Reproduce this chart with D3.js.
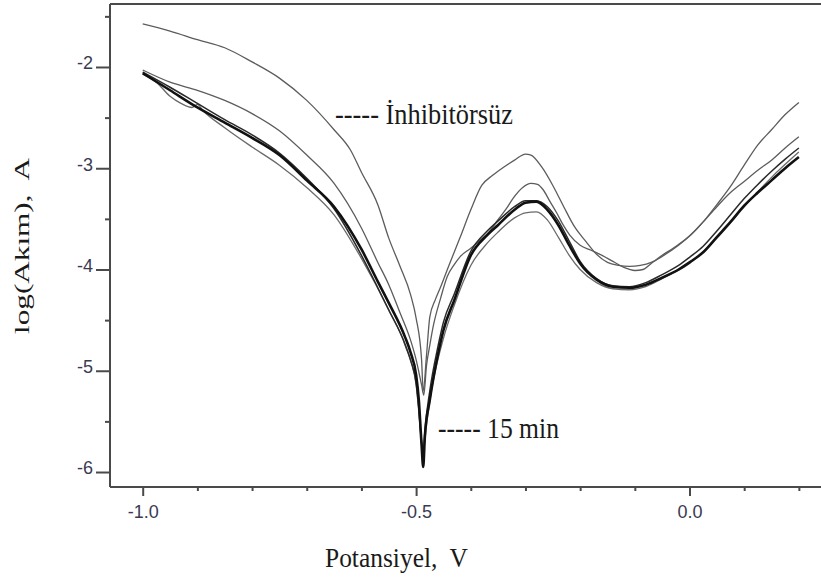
<!DOCTYPE html>
<html><head><meta charset="utf-8">
<script src="https://cdn.jsdelivr.net/npm/d3@7"></script>
<style>body{margin:0;background:#fff;overflow:hidden}</style>
</head><body><svg id="c" width="821" height="579"></svg>
<script>
// ---- data: potential (V) and log(current) for each curve ----
const potC1 = [-1.0,-0.95,-0.9,-0.85,-0.8,-0.75,-0.7,-0.65,-0.62,-0.6,-0.57,-0.55,-0.53,-0.51,-0.5,-0.49,-0.487,-0.481,-0.475,-0.465,-0.455,-0.44,-0.42,-0.4,-0.38,-0.36,-0.34,-0.32,-0.3,-0.29,-0.27,-0.25,-0.23,-0.21,-0.19,-0.17,-0.15,-0.13,-0.11,-0.09,-0.07,-0.05,-0.02,0.0,0.025,0.05,0.075,0.1,0.125,0.15,0.175,0.2];
const logC1 = [-1.575,-1.645,-1.73,-1.81,-1.95,-2.11,-2.33,-2.62,-2.82,-3.04,-3.36,-3.69,-3.96,-4.25,-4.48,-4.89,-5.2,-4.85,-4.47,-4.30,-4.17,-3.96,-3.69,-3.41,-3.17,-3.07,-2.99,-2.92,-2.86,-2.87,-2.99,-3.17,-3.38,-3.58,-3.72,-3.85,-3.93,-3.96,-3.97,-3.96,-3.93,-3.87,-3.76,-3.67,-3.53,-3.36,-3.18,-2.97,-2.77,-2.62,-2.47,-2.35];

const potC2 = [-1.0,-0.95,-0.9,-0.85,-0.8,-0.75,-0.7,-0.65,-0.6,-0.57,-0.55,-0.53,-0.51,-0.5,-0.49,-0.486,-0.481,-0.475,-0.469,-0.455,-0.443,-0.43,-0.419,-0.4,-0.383,-0.365,-0.352,-0.335,-0.323,-0.305,-0.29,-0.278,-0.268,-0.255,-0.243,-0.23,-0.219,-0.2,-0.18,-0.16,-0.14,-0.12,-0.1,-0.085,-0.07,-0.05,-0.03,0.0,0.025,0.05,0.075,0.1,0.125,0.15,0.175,0.2];
const logC2 = [-2.03,-2.15,-2.23,-2.33,-2.46,-2.63,-2.87,-3.15,-3.59,-3.93,-4.15,-4.42,-4.70,-4.89,-5.14,-5.24,-4.95,-4.75,-4.57,-4.28,-4.07,-3.95,-3.87,-3.79,-3.71,-3.62,-3.52,-3.40,-3.30,-3.19,-3.15,-3.16,-3.21,-3.33,-3.44,-3.57,-3.66,-3.76,-3.81,-3.86,-3.92,-3.98,-4.01,-4.0,-3.94,-3.86,-3.79,-3.67,-3.53,-3.38,-3.24,-3.13,-3.02,-2.92,-2.80,-2.69];

const potB = [-1.0,-0.95,-0.9,-0.85,-0.8,-0.75,-0.7,-0.65,-0.6,-0.57,-0.55,-0.52,-0.51,-0.5,-0.495,-0.49,-0.487,-0.484,-0.475,-0.46,-0.45,-0.43,-0.4,-0.37,-0.35,-0.32,-0.3,-0.28,-0.26,-0.24,-0.22,-0.2,-0.17,-0.14,-0.11,-0.08,-0.05,-0.02,0.0,0.025,0.05,0.075,0.1,0.125,0.15,0.175,0.2];
const logB1 = [-2.06,-2.23,-2.40,-2.55,-2.70,-2.87,-3.12,-3.38,-3.80,-4.12,-4.33,-4.67,-4.82,-5.04,-5.29,-5.73,-5.95,-5.65,-5.29,-4.84,-4.60,-4.30,-3.86,-3.66,-3.56,-3.41,-3.34,-3.33,-3.41,-3.56,-3.76,-3.94,-4.10,-4.17,-4.18,-4.15,-4.08,-4.00,-3.93,-3.83,-3.68,-3.53,-3.37,-3.24,-3.12,-3.00,-2.89];
const logB2 = [-2.05,-2.20,-2.36,-2.52,-2.67,-2.85,-3.10,-3.40,-3.86,-4.18,-4.40,-4.74,-4.90,-5.12,-5.38,-5.72,-5.85,-5.60,-5.20,-4.76,-4.52,-4.24,-3.82,-3.62,-3.52,-3.38,-3.32,-3.32,-3.38,-3.52,-3.72,-3.92,-4.09,-4.16,-4.17,-4.13,-4.05,-3.96,-3.88,-3.77,-3.62,-3.46,-3.30,-3.16,-3.03,-2.91,-2.80];

const potC4 = [-1.0,-0.975,-0.95,-0.93,-0.91,-0.9,-0.89,-0.85,-0.8,-0.75,-0.7,-0.65,-0.6,-0.55,-0.52,-0.5,-0.49,-0.487,-0.48,-0.47,-0.45,-0.43,-0.4,-0.37,-0.35,-0.32,-0.3,-0.28,-0.26,-0.24,-0.22,-0.2,-0.17,-0.14,-0.11,-0.08,-0.05,0.0,0.05,0.1,0.15,0.2];
const logC4 = [-2.07,-2.15,-2.29,-2.36,-2.40,-2.37,-2.43,-2.60,-2.79,-2.97,-3.19,-3.46,-3.89,-4.40,-4.75,-5.14,-5.68,-5.78,-5.49,-5.14,-4.68,-4.35,-3.96,-3.74,-3.63,-3.49,-3.44,-3.43,-3.51,-3.68,-3.86,-4.00,-4.13,-4.19,-4.20,-4.17,-4.09,-3.94,-3.69,-3.38,-3.09,-2.84];

const xMajorTicks = [-1.0, -0.5, 0.0];
const xTickLabels = ["-1.0", "-0.5", "0.0"];
const xMinorTicks = [-0.9,-0.8,-0.7,-0.6,-0.4,-0.3,-0.2,-0.1,0.1,0.2];
const yMajorTicks = [-2, -3, -4, -5, -6];
const yTickLabels = ["-2", "-3", "-4", "-5", "-6"];
const yMinorTicks = [-1.5,-2.5,-3.5,-4.5,-5.5];

const xTitle = "Potansiyel,  V";
const yTitle = "log(Akım),  A";
const noteTop = "----- İnhibitörsüz";
const noteBottom = "----- 15 min";

// ---- drawing ----
const svg = d3.select("#c");
const L = 110, T = 4, B = 487, R = 823.2;
const x = d3.scaleLinear().domain([-1.0598, 0.2445]).range([L, R]);
const y = d3.scaleLinear().domain([-6.148, -1.378]).range([B, T]);

const line = d3.line().x(d => x(d[0])).y(d => y(d[1])).curve(d3.curveMonotoneX);

const curves = [
  {p: potC1, v: logC1, c: "#5c5c5c", w: 1.3},
  {p: potC2, v: logC2, c: "#5c5c5c", w: 1.3},
  {p: potC4, v: logC4, c: "#6a6a6a", w: 1.3},
  {p: potB,  v: logB2, c: "#2a2a2a", w: 1.5},
  {p: potB,  v: logB1, c: "#111111", w: 2.6}
];
const plot = svg.append("g");
curves.forEach(cv => {
  plot.append("path").datum(d3.zip(cv.p, cv.v))
    .attr("d", line).attr("fill", "none")
    .attr("stroke", cv.c).attr("stroke-width", cv.w)
    .attr("stroke-linejoin", "round");
});

// frame
const frame = svg.append("g").attr("stroke", "#4a4a4a").attr("stroke-width", 2);
frame.append("line").attr("x1", L).attr("x2", 821).attr("y1", T).attr("y2", T);
frame.append("line").attr("x1", L).attr("x2", L).attr("y1", T).attr("y2", B);
frame.append("line").attr("x1", L).attr("x2", 821).attr("y1", B).attr("y2", B);

const tickFont = "'Liberation Sans', Arial, sans-serif";
// y axis
const yAx = svg.append("g").attr("transform", `translate(${L},0)`)
  .call(d3.axisLeft(y).tickValues(yMajorTicks).tickSize(14).tickPadding(3)
    .tickFormat((d, i) => yTickLabels[i]));
const yMin = svg.append("g").attr("transform", `translate(${L},0)`)
  .call(d3.axisLeft(y).tickValues(yMinorTicks).tickSize(5).tickFormat(""));
// x axis
const xAx = svg.append("g").attr("transform", `translate(0,${B})`)
  .call(d3.axisBottom(x).tickValues(xMajorTicks).tickSize(9).tickPadding(9)
    .tickFormat((d, i) => xTickLabels[i]));
const xMin = svg.append("g").attr("transform", `translate(0,${B})`)
  .call(d3.axisBottom(x).tickValues(xMinorTicks).tickSize(4).tickFormat(""));
[yAx, yMin, xAx, xMin].forEach(g => {
  g.select(".domain").remove();
  g.selectAll("line").attr("stroke", "#4a4a4a").attr("stroke-width", 2);
  g.selectAll("text").attr("font-family", tickFont).attr("font-size", 18)
    .attr("fill", "#3a3a52");
});
yAx.selectAll("text").attr("dy", "0.1em");

const serif = "'Liberation Serif', 'Times New Roman', serif";
function stretchedText(txt, tx, ty, size, len, sy, anchor, rot) {
  const g = svg.append("g").attr("transform",
    `translate(${tx},${ty})` + (rot ? ` rotate(${rot})` : "") + ` scale(1,${sy})`);
  g.append("text").text(txt)
    .attr("font-family", serif).attr("font-size", size).attr("fill", "#1a1a1a")
    .attr("text-anchor", anchor || "start")
    .attr("textLength", len).attr("lengthAdjust", "spacingAndGlyphs")
    .style("white-space", "pre");
}
stretchedText(noteTop, 335, 124, 24, 178, 1.2);
stretchedText(noteBottom, 438, 438, 24, 121, 1.2);
stretchedText(xTitle, 325, 567, 24, 143, 1.15);
stretchedText(yTitle, 29, 246, 22, 176, 1.0, "middle", -90);
</script></body></html>
